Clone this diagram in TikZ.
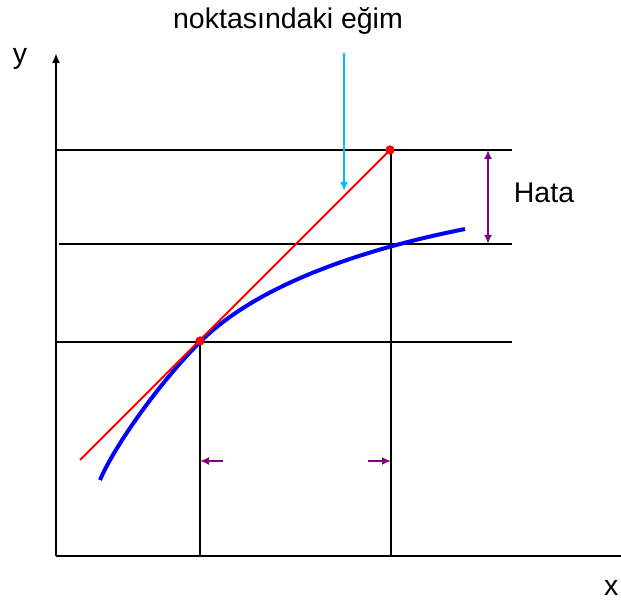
\documentclass[tikz,border=0pt]{standalone}
\usepackage{fontspec}
\setmainfont{Liberation Sans}
\usetikzlibrary{arrows.meta}
\definecolor{curveblue}{RGB}{0,0,255}
\definecolor{tanred}{RGB}{255,0,0}
\definecolor{errpurple}{RGB}{128,0,128}
\definecolor{pointcyan}{RGB}{0,190,255}
\tikzset{
  axis/.style={line width=2pt, black},
  guide/.style={line width=2pt, black},
  tangent/.style={line width=2pt, tanred},
  curve/.style={line width=4pt, curveblue},
  dimarrow/.style={line width=2.5pt, errpurple},
  lbl/.style={inner sep=0pt, anchor=base, font=\fontsize{28.5}{32}\selectfont},
  dot/.style={circle, fill=tanred, inner sep=0pt, minimum size=9pt},
  tip/.tip={Latex[length=9pt,width=8pt]}
}
\begin{document}
\begin{tikzpicture}[x=1pt,y=-1pt]
\useasboundingbox (0,0) rectangle (621,601);
% coordinates
\coordinate (O) at (56,556);
\coordinate (Ytop) at (56,53);
\coordinate (Xend) at (640,556);
\coordinate (h1l) at (56,150); \coordinate (h1r) at (512,150);
\coordinate (h2l) at (59,244); \coordinate (h2r) at (512,244);
\coordinate (h3l) at (56,342); \coordinate (h3r) at (512,342);
\coordinate (v1b) at (200,556);
\coordinate (v2b) at (391,556);
\coordinate (Tstart) at (80,460);
\node[dot] (P1) at (200,341) {};
\node[dot] (P2) at (390,150) {};
\coordinate (C0) at (100,480);
\coordinate (Cend) at (465,229);
\coordinate (e1) at (488,150);
\coordinate (e2) at (488,244);
\coordinate (a1s) at (223,461); \coordinate (a1e) at (200,461);
\coordinate (a2s) at (368,461); \coordinate (a2e) at (391,461);
\coordinate (cyS) at (344,53); \coordinate (cyE) at (344,191);
% axes
\draw[axis, -{Latex[length=10pt,width=8pt]}] (O) -- (Ytop);
\draw[axis] (O) -- (Xend);
% guides
\draw[guide] (h1l) -- (h1r);
\draw[guide] (h2l) -- (h2r);
\draw[guide] (h3l) -- (h3r);
\draw[guide] (200,342) -- (v1b);
\draw[guide] (391,150) -- (v2b);
% curve
\draw[curve] (C0) .. controls (115,445) and (160,382) .. (200,342)
  .. controls (270,272) and (405,241) .. (Cend);
% tangent
\draw[tangent] (Tstart) -- (P2.center);
\node[dot] at (P1) {};
\node[dot] at (P2) {};
% error arrow
\draw[dimarrow, tip-tip] (e1) -- (e2);
\draw[dimarrow, -tip] (a1s) -- (a1e);
\draw[dimarrow, -tip] (a2s) -- (a2e);
% cyan pointer
\draw[line width=2.2pt, pointcyan, -tip] (cyS) -- (cyE);
% labels
\node[lbl] (title) at (288,29) {noktasındaki eğim};
\node[lbl] (ylab) at (20,64) {y};
\node[lbl] (hata) at (544,203) {Hata};
\node[lbl, anchor=base west] (xlab) at (604,595) {x};
\end{tikzpicture}
\end{document}
